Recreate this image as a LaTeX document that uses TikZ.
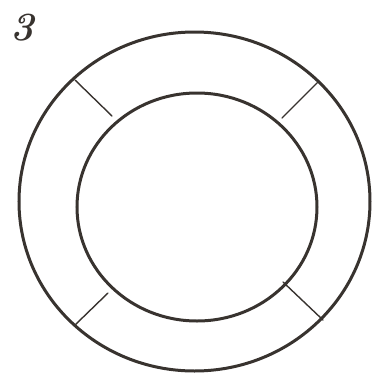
\documentclass[tikz,border=0pt]{standalone}
\usepackage{fontspec}
\begin{document}
\begin{tikzpicture}[x=1pt,y=-1pt,
  ring/.style={draw=inkc, line width=3pt},
  tick/.style={draw=inkc, line width=1.4pt, line cap=round},
  label/.style={font=\fontsize{40}{40}\selectfont\bfseries\itshape, text=inkc, inner sep=0pt}]
\definecolor{inkc}{HTML}{38332F}
\useasboundingbox (0,0) rectangle (374,376);
\draw[ring] (194.5,201.5) ellipse [x radius=175.5, y radius=169.5];
\draw[ring] (197,207) ellipse [x radius=120, y radius=114];
\coordinate (tlo) at (75,80);   \coordinate (tli) at (112,116);
\coordinate (tro) at (318,82);  \coordinate (tri) at (282,118);
\coordinate (blo) at (75,325);  \coordinate (bli) at (108,293);
\coordinate (bro) at (323,320); \coordinate (bri) at (283,282);
\draw[tick] (tlo) -- (tli);
\draw[tick] (tro) -- (tri);
\draw[tick] (blo) -- (bli);
\draw[tick] (bro) -- (bri);
\node[label] (num) at (22,28) {3};
\end{tikzpicture}
\end{document}
